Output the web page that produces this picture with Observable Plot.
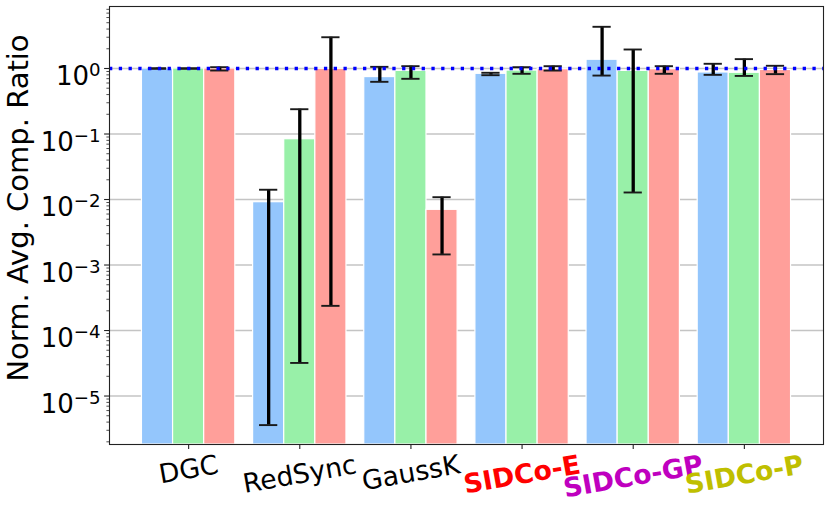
<!DOCTYPE html>
<html>
<head>
<meta charset="utf-8">
<script src="https://cdn.jsdelivr.net/npm/d3@7"></script>
<script src="https://cdn.jsdelivr.net/npm/@observablehq/plot@0.6"></script>
<style>
  html, body { margin: 0; padding: 0; background: #fff; }
  #chart { width: 830px; height: 510px; }
</style>
</head>
<body>
<div id="chart"></div>
<script>
// ---- data ----
const categories = ["DGC", "RedSync", "GaussK", "SIDCo-E", "SIDCo-GP", "SIDCo-P"];
const seriesKeys = ["series1", "series2", "series3"];

const series1 = [1.0, 0.0091, 0.74, 0.83, 1.36, 0.87];
const series1Low = [0.99, 3.6e-6, 0.626, 0.79, 0.78, 0.80];
const series1High = [1.01, 0.0141, 1.06, 0.86, 4.33, 1.18];

const series2 = [1.0, 0.0833, 0.92, 0.93, 0.92, 0.86];
const series2Low = [0.99, 3.2e-5, 0.696, 0.83, 0.0128, 0.77];
const series2High = [1.01, 0.239, 1.085, 1.047, 1.95, 1.39];

const series3 = [1.0, 0.99, 0.00696, 0.976, 0.976, 0.95];
const series3Low = [0.932, 2.38e-4, 0.00145, 0.93, 0.83, 0.82];
const series3High = [1.047, 3.0, 0.01085, 1.085, 1.085, 1.10];

const referenceLine = [1];
const yTickExponents = [-5, -4, -3, -2, -1, 0];
const yLabel = "Norm. Avg. Comp. Ratio";

// ---- styles ----
const barColors = ["#94c6fc", "#98f0a8", "#ff9f9a"];
const labelStyle = {
  "DGC": {fill: "black", weight: "normal"},
  "RedSync": {fill: "black", weight: "normal"},
  "GaussK": {fill: "black", weight: "normal"},
  "SIDCo-E": {fill: "#ff0000", weight: "bold"},
  "SIDCo-GP": {fill: "#bf00bf", weight: "bold"},
  "SIDCo-P": {fill: "#bfbf00", weight: "bold"}
};
const FONT = "DejaVu Sans";
const barWidth = 0.28;
const capHalf = 0.082;
const yDomain = [1.82e-6, 8.84];

// ---- table ----
const vals = [series1, series2, series3];
const lows = [series1Low, series2Low, series3Low];
const highs = [series1High, series2High, series3High];
const rows = [];
categories.forEach((c, i) => {
  seriesKeys.forEach((s, k) => {
    rows.push({cat: c, series: s, k, xc: i + (k - 1) * barWidth, value: vals[k][i], lo: lows[k][i], hi: highs[k][i]});
  });
});

const majorTicks = yTickExponents.map(e => Math.pow(10, e));
const minorTicks = [];
for (let e = -6; e <= 0; e++) for (let m = 2; m <= 9; m++) {
  const v = m * Math.pow(10, e);
  if (v > yDomain[0] && v < yDomain[1]) minorTicks.push(v);
}

// measure label widths for rotated-label placement
const ctx = document.createElement("canvas").getContext("2d");
function textWidth(s, weight, size) {
  ctx.font = `${weight} ${size}px "${FONT}"`;
  return ctx.measureText(s).width;
}
const xFont = 26.6;
const rot = 10 * Math.PI / 180;
const xLabelMarks = categories.map((c, i) => {
  const st = labelStyle[c];
  const w = textWidth(c, st.weight, xFont);
  const half = (w * Math.sin(rot) + 1.164 * xFont * Math.cos(rot)) / 2;
  return Plot.text([c], {
    x: () => i, frameAnchor: "bottom", dy: 4.9 + half,
    text: d => d, rotate: -10, textAnchor: "middle", lineAnchor: "middle",
    fill: st.fill, fontWeight: st.weight, fontSize: xFont, fontFamily: FONT
  });
});

const chart = Plot.plot({
  width: 830,
  height: 510,
  marginLeft: 109,
  marginRight: 7,
  marginTop: 6,
  marginBottom: 66,
  style: {fontFamily: FONT, background: "white", overflow: "visible"},
  x: {type: "linear", domain: [-0.712, 5.712]},
  y: {type: "log", domain: yDomain},
  marks: [
    Plot.gridY(majorTicks, {stroke: "#c4c4c4", strokeOpacity: 1, strokeWidth: 1.6}),
    Plot.rect(rows, {
      x1: d => d.xc - barWidth / 2, x2: d => d.xc + barWidth / 2,
      y1: () => yDomain[0], y2: "value",
      fill: d => barColors[d.k], stroke: "white", strokeWidth: 1.2
    }),
    Plot.ruleX(rows, {x: "xc", y1: "lo", y2: "hi", stroke: "black", strokeWidth: 3.3}),
    Plot.ruleY(rows, {y: "hi", x1: d => d.xc - capHalf, x2: d => d.xc + capHalf, stroke: "#1a1a1a", strokeWidth: 1.9}),
    Plot.ruleY(rows, {y: "lo", x1: d => d.xc - capHalf, x2: d => d.xc + capHalf, stroke: "#1a1a1a", strokeWidth: 1.9}),
    Plot.ruleY(referenceLine, {stroke: "#0000ff", strokeWidth: 3.3, strokeDasharray: "3.3,6.47"}),
    Plot.axisY({ticks: minorTicks, tickSize: 2.6, tickFormat: () => "", stroke: "#222", strokeWidth: 0.8}),
    Plot.axisY({ticks: majorTicks, tickSize: 4.9, tickPadding: 4, tickFormat: d => "10^" + Math.round(Math.log10(d)),
      fontSize: 26, fontFamily: FONT, fill: "black", stroke: "#222", strokeWidth: 1.1, label: null}),
    Plot.axisX({ticks: d3.range(categories.length), tickSize: 4.9, tickFormat: () => "", stroke: "#222", strokeWidth: 1.1, label: null}),
    Plot.frame({stroke: "#222", strokeWidth: 1.1}),
    ...xLabelMarks,
    Plot.text([yLabel], {frameAnchor: "left", text: d => d, rotate: -90, dx: -90.3, dy: -17.5,
      textAnchor: "middle", lineAnchor: "middle", fontSize: 29, fontFamily: FONT, fill: "black"})
  ]
});

// turn "10^e" labels into 10 with a superscript
chart.querySelectorAll('g[aria-label="y-axis tick label"] text').forEach(t => {
  const s = t.textContent;
  const m = s.match(/^10\^(-?\d+)$/);
  if (!m) return;
  const exp = m[1].replace("-", "\u2212");
  t.textContent = "";
  const ns = "http://www.w3.org/2000/svg";
  const a = document.createElementNS(ns, "tspan");
  a.textContent = "10";
  const b = document.createElementNS(ns, "tspan");
  b.textContent = exp;
  b.setAttribute("font-size", "18.2");
  b.setAttribute("dy", "-8.8");
  t.appendChild(a);
  t.appendChild(b);
  t.setAttribute("dy", "0.32em");
});

document.getElementById("chart").appendChild(chart);
</script>
</body>
</html>
